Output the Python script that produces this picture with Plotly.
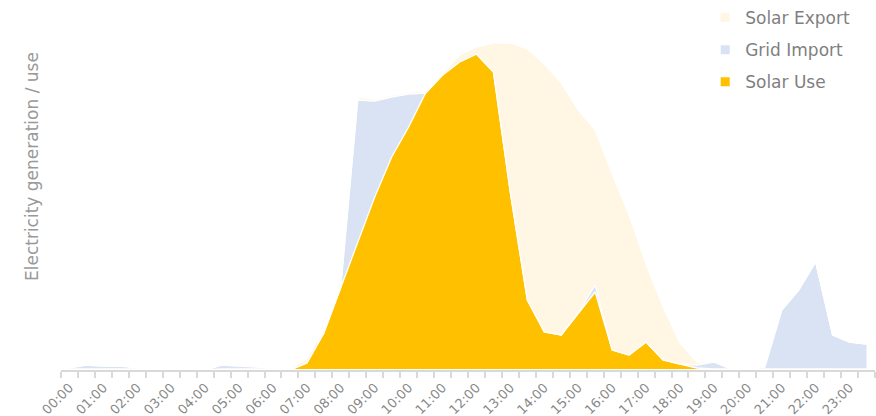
import plotly.graph_objects as go

# Half-hour slots (categories)
slots = ["00:00", "00:30", "01:00", "01:30", "02:00", "02:30", "03:00", "03:30",
         "04:00", "04:30", "05:00", "05:30", "06:00", "06:30", "07:00", "07:30",
         "08:00", "08:30", "09:00", "09:30", "10:00", "10:30", "11:00", "11:30",
         "12:00", "12:30", "13:00", "13:30", "14:00", "14:30", "15:00", "15:30",
         "16:00", "16:30", "17:00", "17:30", "18:00", "18:30", "19:00", "19:30",
         "20:00", "20:30", "21:00", "21:30", "22:00", "22:30", "23:00", "23:30"]

hour_labels = ["00:00", "01:00", "02:00", "03:00", "04:00", "05:00", "06:00", "07:00",
               "08:00", "09:00", "10:00", "11:00", "12:00", "13:00", "14:00", "15:00",
               "16:00", "17:00", "18:00", "19:00", "20:00", "21:00", "22:00", "23:00"]

solar_use = [0, 0, 0, 0, 0, -0.01, -0.01, -0.01,
             -0.01, 0, 0, 0, 0, -0.01, 0.06, 0.36,
             0.82, 1.26, 1.72, 2.12, 2.42, 2.76, 2.94, 3.07,
             3.15, 2.97, 1.76, 0.69, 0.37, 0.34, 0.56, 0.77,
             0.19, 0.14, 0.27, 0.09, 0.05, 0.01, 0, 0,
             0, 0, 0, 0, 0, 0, 0, 0]

grid_import = [0.01, 0.04, 0.03, 0.03, 0.01, 0, 0, 0,
               0, 0.04, 0.03, 0.025, 0, 0, 0, 0,
               0, 1.43, 0.96, 0.60, 0.33, 0, 0, 0,
               0, 0, 0, 0, 0, 0, 0, 0.07,
               0, 0, 0, 0, 0, 0.03, 0.07, 0,
               0, 0.02, 0.59, 0.79, 1.07, 0.34, 0.27, 0.25]

solar_export = [0.01, 0, 0, 0, 0.01, 0, 0, 0,
                0, 0, 0, 0, 0.01, 0.01, 0.05, 0.03,
                0.03, 0.03, 0.02, 0.02, 0.02, 0.02, 0.02, 0.07,
                0.07, 0.29, 1.50, 2.51, 2.68, 2.52, 2.03, 1.55,
                1.76, 1.40, 0.78, 0.53, 0.21, 0.03, 0, 0.005,
                0.005, 0, 0, 0, 0, 0, 0, 0]

series = [
    ("Solar Use", solar_use, "#FFC000"),
    ("Grid Import", grid_import, "#DAE3F3"),
    ("Solar Export", solar_export, "#FFF6E3"),
]

FONT = "DejaVu Sans"
x = list(range(len(slots)))

fig = go.Figure()
for name, vals, col in series:
    fig.add_trace(go.Scatter(
        x=x, y=vals, name=name, stackgroup="one", mode="lines",
        line=dict(color="white", width=1.3), fillcolor=col,
        showlegend=False, customdata=slots,
        hovertemplate="%{customdata}: %{y}<extra>" + name + "</extra>",
    ))

# legend entries (top to bottom)
for name, vals, col in reversed(series):
    fig.add_trace(go.Scatter(
        x=[None], y=[None], name=name, mode="markers",
        marker=dict(symbol="square", size=9, color=col),
        legendgroup=name, showlegend=True,
    ))

hour_pos = [slots.index(h) for h in hour_labels]

fig.update_layout(
    width=876, height=416,
    margin=dict(l=61, r=1, t=0, b=46),
    paper_bgcolor="white", plot_bgcolor="white",
    font=dict(family=FONT, color="#808080"),
    showlegend=True,
    legend=dict(
        x=0.7914, xanchor="left", y=1.0, yanchor="top",
        font=dict(size=17, color="#7f7f7f", family=FONT),
        bgcolor="rgba(0,0,0,0)", traceorder="grouped", tracegroupgap=7,
        itemsizing="trace",
    ),
    xaxis=dict(
        range=[-0.5, 47.5], tickmode="array", tickvals=hour_pos, ticktext=hour_labels,
        tickangle=-45, ticks="outside", ticklen=3, tickcolor="rgba(0,0,0,0)",
        tickfont=dict(size=13, color="#878787", family=FONT),
        showline=True, linecolor="#d9d9d9", linewidth=2, showgrid=False, zeroline=False,
        automargin=False,
        minor=dict(tickmode="array", tickvals=[i - 0.5 for i in range(len(slots) + 1)],
                   ticks="outside", ticklen=6, tickcolor="#d9d9d9", tickwidth=1.5,
                   showgrid=False),
    ),
    yaxis=dict(
        range=[-0.01, 3.69], showticklabels=False, showgrid=False, zeroline=False,
        showline=False, ticks="",
    ),
    annotations=[dict(
        text="Electricity generation / use", textangle=-90,
        xref="paper", yref="paper", x=(32 - 61) / 815, y=(370 - 167) / 370,
        xanchor="center", yanchor="middle", showarrow=False,
        font=dict(size=17, color="#999999", family=FONT),
    )],
)

fig.write_html("out.html", config={"displayModeBar": False},
               post_script="document.body.style.margin='0';document.body.style.padding='0';")
